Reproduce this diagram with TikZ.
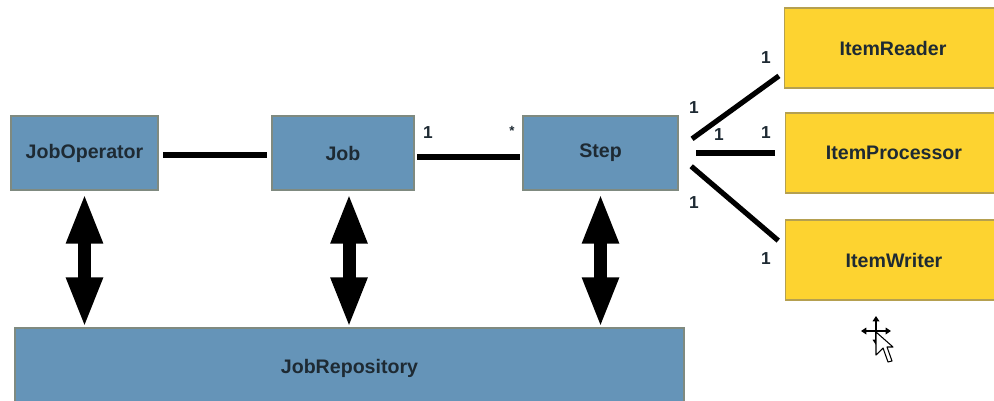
\documentclass[tikz,border=0pt]{standalone}
\usepackage{fontspec}
\setmainfont{Liberation Sans}
\usetikzlibrary{arrows.meta}

\definecolor{jobblue}{HTML}{6594B8}
\definecolor{itemyellow}{HTML}{FDD330}
\definecolor{boxedge}{HTML}{7F8A80}
\definecolor{itemedge}{HTML}{B5A050}
\definecolor{labelink}{HTML}{1E2A33}

\tikzset{
	jobbox/.style={draw=boxedge,line width=0.8pt,fill=jobblue,inner sep=0pt,outer sep=0pt,text=labelink,font=\bfseries\fontsize{14.7}{16}\selectfont},
	itembox/.style={jobbox,draw=itemedge,fill=itemyellow,minimum width=163pt,minimum height=60pt},
	link/.style={line width=3.9pt},
	access/.style={line width=9.75pt,{Triangle[length=38pt,width=25pt]}-{Triangle[length=38pt,width=25pt]},shorten <=2.25pt,shorten >=0pt},
	mult/.style={inner sep=0pt,text=labelink,font=\bfseries\fontsize{13}{14}\selectfont},
}

\begin{document}
\begin{tikzpicture}[x=0.75pt,y=-0.75pt]
	\useasboundingbox (0,0) rectangle (994,400);
	\clip (0,0) rectangle (994,400);

	\node[jobbox,minimum width=110.25pt,minimum height=55.5pt] (JobOperator) at (84.5,153) {JobOperator};
	\node[jobbox,minimum width=106.5pt,minimum height=55.5pt] (Job) at (343,153) {Job};
	\node[jobbox,minimum width=116.25pt,minimum height=55.5pt] (Step) at (600.5,153) {Step};
	\node[jobbox,minimum width=501.75pt,minimum height=60pt] (JobRepository) at (349.5,368) {JobRepository};
	\node[itembox] (ItemReader) at (893,48) {ItemReader};
	\node[itembox] (ItemProcessor) at (894,153) {ItemProcessor};
	\node[itembox] (ItemWriter) at (894,260) {ItemWriter};

	\draw[link,shorten <=3.75pt,shorten >=3.75pt] ([yshift=-1.5pt]JobOperator.east) -- ([yshift=-1.5pt]Job.west);
	\draw[link,shorten <=2.25pt,shorten >=2.25pt] ([yshift=-3pt]Job.east) -- ([yshift=-3pt]Step.west);
	\draw[link,shorten <=13pt,shorten >=5pt] ([yshift=3pt]Step.east) -- ([yshift=-18pt]ItemReader.west);
	\draw[link,shorten <=13.5pt,shorten >=7.5pt] (Step.east) -- (ItemProcessor.west);
	\draw[link,shorten <=13pt,shorten >=7pt] ([yshift=-1.5pt]Step.east) -- ([yshift=10pt]ItemWriter.west);

	\draw[access] (JobOperator.south) -- (JobOperator.south |- JobRepository.north);
	\draw[access] ([xshift=4.5pt]Job.south) -- ([xshift=4.5pt]Job.south |- JobRepository.north);
	\draw[access] (Step.south) -- (Step.south |- JobRepository.north);

	\node[mult] (JobOne) at (428,133) {1};
	\node[mult,font=\bfseries\fontsize{10}{11}\selectfont] (StepMany) at (512,131) {*};
	\node[mult] (ReaderOne) at (766,58) {1};
	\node[mult] (StepReaderOne) at (694,108) {1};
	\node[mult] (StepProcessorOne) at (719,135) {1};
	\node[mult] (ProcessorOne) at (766,133) {1};
	\node[mult] (StepWriterOne) at (694,203) {1};
	\node[mult] (WriterOne) at (766,259) {1};

	% mouse cursor
	\draw[line width=0.9pt,{Triangle[length=4pt,width=5pt]}-{Triangle[length=4pt,width=5pt]}] (861,331) -- (891,331);
	\draw[line width=0.9pt,{Triangle[length=4pt,width=5pt]}-{Triangle[length=4pt,width=5pt]}] (876,316) -- (876,345);
	\draw[line width=0.8pt,fill=white,line join=round] (876,332) -- (876,355) -- (883,348) -- (888,362) -- (892,361) -- (887,347) -- (893,347) -- cycle;
\end{tikzpicture}
\end{document}
